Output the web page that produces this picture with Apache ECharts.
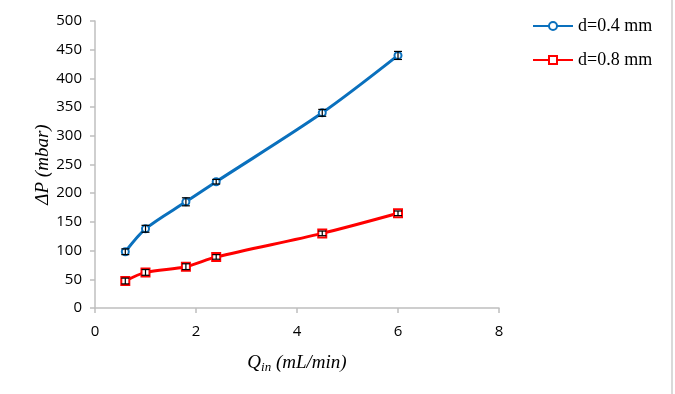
<!DOCTYPE html>
<html>
<head>
<meta charset="utf-8">
<script src="https://cdn.jsdelivr.net/npm/echarts@6/dist/echarts.min.js"></script>
<style>
  html, body { margin: 0; padding: 0; background: #fff; }
  #chart { width: 675px; height: 394px; }
</style>
</head>
<body>
<div id="chart"></div>
<script>
// flow rate Q_in (mL/min)
var flowRates = [0.6, 1.0, 1.8, 2.4, 4.5, 6.0];
// pressure drop (mbar)
var dp04 = [98, 138, 185, 220, 340, 440];
var dp08 = [47, 62, 72, 89, 130, 165];
// error half-widths (mbar)
var err04 = [5, 6, 7, 4, 6, 7];
var err08 = [5, 5, 5, 4, 4, 4];
var xTicks = [0, 2, 4, 6, 8];
var yTicks = [0, 50, 100, 150, 200, 250, 300, 350, 400, 450, 500];

function pairs(ys) {
	return flowRates.map(function(x, i) { return [x, ys[i]]; });
}
function errData(ys, es) {
	return flowRates.map(function(x, i) { return [x, ys[i] - es[i], ys[i] + es[i]]; });
}
function renderErr(params, api) {
	var lo = api.coord([api.value(0), api.value(1)]);
	var hi = api.coord([api.value(0), api.value(2)]);
	var w = 4;
	var st = { stroke: '#000', lineWidth: 1.2 };
	return {
		type: 'group',
		children: [
			{ type: 'line', shape: { x1: lo[0], y1: lo[1], x2: hi[0], y2: hi[1] }, style: st },
			{ type: 'line', shape: { x1: lo[0] - w, y1: lo[1], x2: lo[0] + w, y2: lo[1] }, style: st },
			{ type: 'line', shape: { x1: hi[0] - w, y1: hi[1], x2: hi[0] + w, y2: hi[1] }, style: st }
		]
	};
}

var chart = echarts.init(document.getElementById('chart'));
var axisGray = '#bfbfbf';
var tickFont = { fontFamily: 'Open Sans', fontSize: 15, color: '#000' };
var serif = 'Liberation Serif';

chart.setOption({
	animation: false,
	backgroundColor: '#fff',
	grid: { left: 95, right: 176, top: 21, bottom: 86 },
	legend: {
		orient: 'vertical',
		left: 532,
		top: 17,
		padding: 0,
		itemWidth: 40,
		itemHeight: 10,
		itemGap: 16,
		textStyle: { fontFamily: serif, fontSize: 18, color: '#000' },
		data: ['d=0.4 mm', 'd=0.8 mm']
	},
	xAxis: {
		type: 'value',
		min: xTicks[0],
		max: xTicks[xTicks.length - 1],
		interval: 2,
		name: '{q|Q}{s|in}{t| (mL/min)}',
		nameLocation: 'middle',
		nameGap: 44,
		nameTextStyle: {
			rich: {
				q: { fontFamily: serif, fontStyle: 'italic', fontSize: 19, color: '#000' },
				s: { fontFamily: serif, fontStyle: 'italic', fontSize: 13, color: '#000', verticalAlign: 'bottom', padding: [9, 0, 0, 0] },
				t: { fontFamily: serif, fontStyle: 'italic', fontSize: 19, color: '#000' }
			}
		},
		axisLine: { lineStyle: { color: axisGray, width: 1.5 } },
		axisTick: { show: true, length: 5, lineStyle: { color: axisGray, width: 1.5 } },
		axisLabel: Object.assign({ margin: 16 }, tickFont),
		splitLine: { show: false }
	},
	yAxis: {
		type: 'value',
		min: yTicks[0],
		max: yTicks[yTicks.length - 1],
		interval: 50,
		name: 'ΔP (mbar)',
		nameLocation: 'middle',
		nameGap: 43,
		nameMoveOverlap: false,
		nameTextStyle: { fontFamily: serif, fontStyle: 'italic', fontSize: 19, color: '#000' },
		axisLine: { show: true, lineStyle: { color: axisGray, width: 1.5 } },
		axisTick: { show: true, length: 5, lineStyle: { color: axisGray, width: 1.5 } },
		axisLabel: Object.assign({ margin: 13 }, tickFont),
		splitLine: { show: false }
	},
	graphic: [{
		type: 'line',
		shape: { x1: 672, y1: 0, x2: 672, y2: 394 },
		style: { stroke: '#d9d9d9', lineWidth: 2 }
	}],
	series: [{
		name: 'd=0.4 mm',
		type: 'line',
		smooth: 0.3,
		data: pairs(dp04),
		symbol: 'emptyCircle',
		symbolSize: 7,
		lineStyle: { color: '#0a70bd', width: 3 },
		itemStyle: { color: '#0a70bd', borderWidth: 1.5 },
		z: 2
	}, {
		name: 'd=0.8 mm',
		type: 'line',
		smooth: 0.3,
		data: pairs(dp08),
		symbol: 'emptyRect',
		symbolSize: 8,
		lineStyle: { color: '#ff0000', width: 3 },
		itemStyle: { color: '#ff0000', borderWidth: 1.5 },
		z: 2
	}, {
		type: 'custom',
		renderItem: renderErr,
		data: errData(dp04, err04),
		encode: { x: 0, y: [1, 2] },
		z: 3
	}, {
		type: 'custom',
		renderItem: renderErr,
		data: errData(dp08, err08),
		encode: { x: 0, y: [1, 2] },
		z: 3
	}]
});
</script>
</body>
</html>
